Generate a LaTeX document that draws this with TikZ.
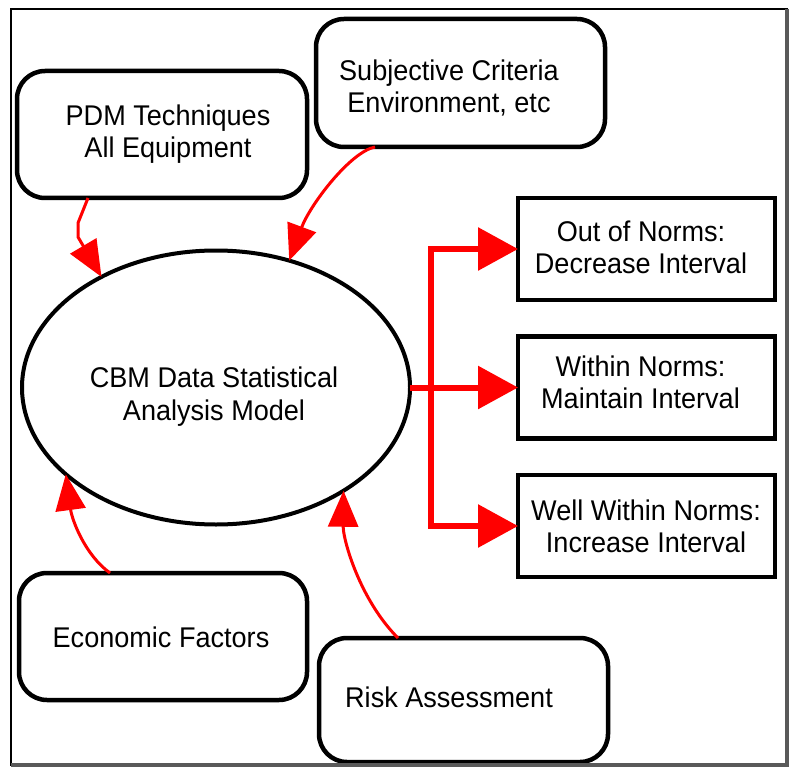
\documentclass[tikz,border=0pt]{standalone}
\usepackage{fontspec}
\setmainfont{Liberation Sans}[FakeStretch=0.95]
\usetikzlibrary{arrows.meta,shapes.geometric}
\begin{document}
\begin{tikzpicture}[x=1pt,y=-1pt,
  lbl/.style={font=\fontsize{28.5}{32.5}\selectfont, align=center, inner sep=0pt},
  roundbox/.style={draw, fill=white, line width=4.5pt, rounded corners=28pt, inner sep=0pt, outer sep=0pt},
  normbox/.style={draw, fill=white, line width=4.5pt, minimum width=257pt, minimum height=102pt, inner sep=0pt, outer sep=0pt},
  model/.style={draw, ellipse, line width=4pt, minimum width=388pt, minimum height=274pt, inner sep=0pt, outer sep=0pt},
  feed/.style={draw=red, line width=3pt, -{Triangle[length=36pt,width=30pt]}},
  branch/.style={draw=red, line width=6pt, line join=miter}
]
\useasboundingbox (0,0) rectangle (794,767);
\fill[white] (0,0) rectangle (794,767);

\node[roundbox, minimum width=290pt, minimum height=127pt] (pdm) at (162,134.5) {};
\node[roundbox, minimum width=289pt, minimum height=128pt] (subj) at (460.5,83) {};
\node[roundbox, minimum width=288pt, minimum height=127pt] (econ) at (163,636.5) {};
\node[roundbox, minimum width=289pt, minimum height=124pt] (risk) at (463.5,700) {};
\node[model] (cbm) at (216,387.5) {};
\node[normbox] (out) at (646.5,249) {};
\node[normbox] (within) at (646.5,387.5) {};
\node[normbox] (well) at (646.5,526) {};

\node[lbl] (pdmt) at (168,134) {PDM Techniques\\All Equipment};
\node[lbl] (subjt) at (449,88) {Subjective Criteria\\Environment, etc};
\node[lbl] (econt) at (161,637.5) {Economic Factors};
\node[lbl] (riskt) at (449,697.5) {Risk Assessment};
\node[lbl] (cbmt) at (214,396.5) {CBM Data Statistical\\Analysis Model};
\node[lbl] (outt) at (641,247.5) {Out of Norms:\\Decrease Interval};
\node[lbl] (withint) at (640.5,382.5) {Within Norms:\\Maintain Interval};
\node[lbl] (wellt) at (646,526.5) {Well Within Norms:\\Increase Interval};

\coordinate (jx) at (431,0);
\draw[branch, {Triangle[length=40pt,width=42pt]}-{Triangle[length=40pt,width=42pt]}]
  (out.west) -- (out.west -| jx) -- (well.west -| jx) -- (well.west);
\draw[branch, -{Triangle[length=40pt,width=42pt]}] (cbm.east) -- (within.west);

\draw[feed] ([xshift=-74pt]pdm.south) -- ++(-10,25) -- ++(0,14) -- (cbm.136.3);
\draw[feed] ([xshift=-85.5pt]subj.south) .. controls (350,152) and (310,205) .. (cbm.60.6);
\draw[feed] ([xshift=-53pt]econ.north) .. controls (85,555) and (72,520) .. (cbm.210.7);
\draw[feed] ([xshift=-65.5pt]risk.north) .. controls (360,600) and (343,540) .. (cbm.321.1);

\draw[line width=1.2pt] (11,9) rectangle (787,765);
\draw[gray!70!black, line width=4pt] (787,9) -- (787,765) -- (11,765);
\end{tikzpicture}
\end{document}
